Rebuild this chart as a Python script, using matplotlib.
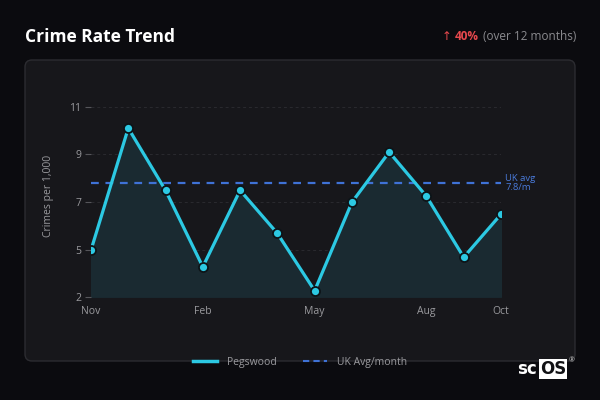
import matplotlib.pyplot as plt
from matplotlib.patches import FancyBboxPatch
from matplotlib.lines import Line2D

plt.rcParams['font.family'] = ['Open Sans', 'DejaVu Sans']

# --- data ---
months = ['Nov', 'Dec', 'Jan', 'Feb', 'Mar', 'Apr', 'May', 'Jun', 'Jul', 'Aug', 'Sep', 'Oct']
crime_rate = [5.0, 10.1, 7.5, 4.3, 7.5, 5.7, 3.3, 7.0, 9.1, 7.25, 4.7, 6.5]
uk_avg = 7.8
shown_months = ['Nov', 'Feb', 'May', 'Aug', 'Oct']
y_ticks = [3.05, 5, 7, 9, 11]
y_tick_labels = ['2', '5', '7', '9', '11']

bg = '#0b0b0f'
card = '#17171b'
cyan = '#2cc9e3'
blue = '#3f72d6'
grey = '#9a9a9e'

fig = plt.figure(figsize=(6, 4), dpi=100, facecolor=bg)

# card behind the chart, on its own background axes
bg_ax = fig.add_axes([0, 0, 1, 1], zorder=-5)
bg_ax.set_axis_off()
bg_ax.add_patch(FancyBboxPatch((0.25, 0.39), 5.5, 3.01,
                               boxstyle='round,pad=0,rounding_size=0.07',
                               transform=fig.dpi_scale_trans,
                               facecolor=card, edgecolor='#2c2c31', linewidth=1))

ax = fig.add_axes([91 / 600, 1 - 296.7 / 400, 410 / 600, 202 / 400])
ax.set_facecolor('none')
x = list(range(len(months)))

ax.fill_between(x, crime_rate, 3.05, color='#1a2a31', zorder=1)
ax.plot(x, crime_rate, color=cyan, linewidth=2.3, marker='o', markersize=6.5,
        markerfacecolor=cyan, markeredgecolor='#0d1418', markeredgewidth=1.3, zorder=3)
ax.plot([0, 11], [uk_avg, uk_avg], color=blue, linewidth=1.6, dashes=(3.5, 3), zorder=2)
ax.text(11.12, uk_avg, 'UK avg\n7.8/m', color='#4a7bdb', fontsize=6.8,
        va='center', ha='left', linespacing=1.1)

ax.set_xlim(0, 11)
ax.set_ylim(3.05, 11.5)
ax.set_xticks([months.index(m) for m in shown_months])
ax.set_xticklabels(shown_months)
ax.set_yticks(y_ticks)
ax.set_yticklabels(y_tick_labels)
ax.tick_params(axis='x', length=0, pad=7, colors=grey, labelsize=7.5)
ax.tick_params(axis='y', length=4, width=0.8, pad=3, colors='#55555a', labelcolor=grey, labelsize=7.5)
for v in y_ticks[1:]:
    ax.axhline(v, color='#2a2a2f', linewidth=0.7, dashes=(3, 3), zorder=0)
for s in ax.spines.values():
    s.set_visible(False)
ax.set_ylabel('Crimes per 1,000', color=grey, fontsize=7.5, labelpad=11)

# legend
handles = [Line2D([], [], color=cyan, linewidth=2.5),
           Line2D([], [], color=blue, linewidth=1.5, dashes=(3, 2))]
fig.legend(handles, ['Pegswood', 'UK Avg/month'], loc='center',
           bbox_to_anchor=(0.5, 1 - 362 / 400), ncol=2, frameon=False,
           fontsize=7.5, labelcolor=grey, handlelength=2.3, columnspacing=2.6, handletextpad=0.9)

# header
fig.text(25 / 600, 1 - 37 / 400, 'Crime Rate Trend', color='white', fontsize=12.5,
         fontweight='bold', va='center', ha='left')
fig.text(576 / 600, 1 - 37 / 400, '(over 12 months)', color='#8a8a8e', fontsize=8.5,
         va='center', ha='right')
fig.text(479 / 600, 1 - 37 / 400, '40%', color='#e5484d', fontsize=8.5, fontweight='bold',
         va='center', ha='right')
fig.text(451 / 600, 1 - 37 / 400, '↑', color='#e5484d', fontsize=8.5,
         va='center', ha='right', family=['DejaVu Sans'])

# logo
fig.text(517 / 600, 1 - 369 / 400, 'sc', color='white', fontsize=12, fontweight='bold',
         va='center', ha='left', family=['DejaVu Sans'])
fig.text(540 / 600, 1 - 369 / 400, 'OS', color='#111114', fontsize=12, fontweight='bold',
         va='center', ha='left', family=['DejaVu Sans'],
         bbox=dict(boxstyle='square,pad=0.05', facecolor='white', edgecolor='none'))
fig.text(572 / 600, 1 - 361 / 400, '®', color='#cccccc', fontsize=5, va='center', ha='center')

fig.savefig('out.png', dpi=100, facecolor=bg)
